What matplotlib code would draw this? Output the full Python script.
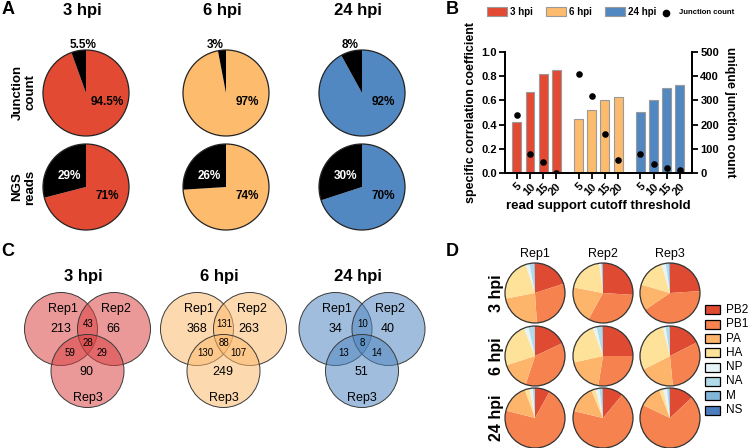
import matplotlib
matplotlib.use("Agg")
import matplotlib.pyplot as plt
import numpy as np
from matplotlib.patches import Circle, Rectangle

plt.rcParams["font.family"] = ["Liberation Sans", "DejaVu Sans"]

W, H = 750, 448

timepoints = ["3 hpi", "6 hpi", "24 hpi"]
tp_colors = ["#E24A33", "#FDBB6E", "#5288C1"]
venn_colors = ["#DA4444", "#FDBB6E", "#5288C1"]

# A: share of junctions / reads (coloured part, black part)
junction_main = [94.5, 97, 92]
junction_rest = [5.5, 3, 8]
reads_main = [71, 74, 70]
reads_rest = [29, 26, 30]

# B
cutoffs = ["5", "10", "15", "20"]
corr_3hpi = [0.42, 0.67, 0.82, 0.85]
corr_6hpi = [0.45, 0.52, 0.60, 0.63]
corr_24hpi = [0.50, 0.60, 0.70, 0.73]
junc_3hpi = [241, 80, 47, 2]
junc_6hpi = [408, 320, 161, 55]
junc_24hpi = [80, 36, 21, 14]

# C: only Rep1, only Rep2, only Rep3, 1&2, 1&3, 2&3, all three
venn_3hpi = [213, 66, 90, 43, 59, 29, 28]
venn_6hpi = [368, 263, 249, 131, 130, 107, 88]
venn_24hpi = [34, 40, 51, 10, 13, 14, 8]

# D: segment composition (%) per replicate
segments = ["PB2", "PB1", "PA", "HA", "NP", "NA", "M", "NS"]
seg_colors = ["#DF4A33", "#F5824F", "#FDB56C", "#FEE29A",
              "#E6F4F8", "#B2DBEA", "#82B5D8", "#4D7DBD"]
replicates = ["Rep1", "Rep2", "Rep3"]
comp_3hpi = [[20, 29, 23, 23, 2, 2.5, 0.3, 0.2],
             [26, 32, 20, 20, 1, 0.6, 0.2, 0.2],
             [24, 41.5, 14, 16, 2.2, 1.5, 0.5, 0.3]]
comp_6hpi = [[18, 37, 15, 24, 2.5, 3.2, 0.2, 0.1],
             [25, 27.5, 19, 23, 2, 3, 0.3, 0.2],
             [17.5, 31, 19, 28.6, 1.5, 2, 0.3, 0.1]]
comp_24hpi = [[8, 71, 15.5, 2.5, 1.8, 0.9, 0.2, 0.1],
              [11, 67.7, 15, 2.2, 2.2, 1.4, 0.3, 0.2],
              [13, 69, 12, 2.2, 2, 1.1, 0.4, 0.2]]

fig = plt.figure(figsize=(W / 100, H / 100), dpi=100)


def px_axes(x0, y0, w, h):
    return fig.add_axes([x0 / W, 1 - (y0 + h) / H, w / W, h / H])


def draw_pie(cx, cy, r, values, colors, edge="#222222"):
    ax = px_axes(cx - 1.25 * r, cy - 1.25 * r, 2.5 * r, 2.5 * r)
    ax.pie(values, colors=colors, startangle=90, counterclock=False,
           wedgeprops=dict(edgecolor="none", linewidth=0))
    ax.add_patch(Circle((0, 0), 1, fill=False, ec=edge, lw=0.9))
    ax.set_xlim(-1.25, 1.25)
    ax.set_ylim(-1.25, 1.25)
    return ax


# overlay in pixel coordinates for free text, legends and venn circles
ov = px_axes(0, 0, W, H)
ov.set_xlim(0, W)
ov.set_ylim(H, 0)
ov.axis("off")

for letter, (x, y) in zip("ABCD", [(8, 10), (452, 9), (8, 252), (452, 252)]):
    ov.text(x, y, letter, ha="center", va="center", fontsize=13,
            fontweight="bold")

# ---- A
pie_x = [86, 226, 362]
for i, tp in enumerate(timepoints):
    ov.text(pie_x[i] - 4, 10, tp, ha="center", va="center", fontsize=12,
            fontweight="bold")
    ax = draw_pie(pie_x[i], 93, 43, [junction_main[i], junction_rest[i]],
                  [tp_colors[i], "black"])
    ax.text(0.5, -0.21, f"{junction_main[i]:g}%", ha="center", va="center",
            fontsize=8.5, fontweight="bold")
    ax.text([-0.07, -0.26, -0.28][i], 1.12, f"{junction_rest[i]:g}%",
            ha="center", va="center", fontsize=8.5, fontweight="bold")
    ax = draw_pie(pie_x[i], 187, 43, [reads_main[i], reads_rest[i]],
                  [tp_colors[i], "black"])
    ax.text(0.5, -0.21, f"{reads_main[i]:g}%", ha="center", va="center",
            fontsize=8.5, fontweight="bold")
    ax.text(-0.38, 0.26, f"{reads_rest[i]:g}%", ha="center", va="center",
            fontsize=8.5, fontweight="bold", color="white")
ov.text(24, 92, "Junction\ncount", ha="center", va="center", fontsize=9.5,
        fontweight="bold", rotation=90, linespacing=1.1)
ov.text(24, 187, "NGS\nreads", ha="center", va="center", fontsize=9.5,
        fontweight="bold", rotation=90, linespacing=1.1)

# ---- B
axb = px_axes(505, 52, 187, 121)
corr = [corr_3hpi, corr_6hpi, corr_24hpi]
junc = [junc_3hpi, junc_6hpi, junc_24hpi]
axb2 = axb.twinx()
xpos = []
for g in range(3):
    x = np.arange(4) + g * 4.7
    xpos.extend(x)
    axb.bar(x, corr[g], width=0.68, color=tp_colors[g],
            edgecolor="#9a9a9a", linewidth=0.8, zorder=2)
    axb2.scatter(x, junc[g], s=14, color="black", zorder=3)
axb.set_xlim(-0.9, 13.32)
axb.set_ylim(0, 1.0)
axb2.set_ylim(0, 500)
axb.set_yticks(np.arange(0, 1.01, 0.2))
axb.set_yticklabels([f"{v:.1f}" for v in np.arange(0, 1.01, 0.2)])
axb2.set_yticks(range(0, 501, 100))
axb.set_xticks(xpos)
axb.set_xticklabels(cutoffs * 3, rotation=45, ha="right",
                    rotation_mode="anchor")
for a in (axb, axb2):
    a.spines["top"].set_visible(False)
    for s in ("left", "right", "bottom"):
        a.spines[s].set_linewidth(1.3)
    a.tick_params(width=1.3, length=4, labelsize=8, pad=2)
    for lab in a.get_xticklabels() + a.get_yticklabels():
        lab.set_fontweight("bold")
axb.set_ylabel("specific correlation coefficient", fontsize=9,
               fontweight="bold", labelpad=3)
axb2.set_ylabel("unique junction count", fontsize=9, fontweight="bold",
                rotation=270, labelpad=12)
axb.set_xlabel("read support cutoff threshold", fontsize=9.5,
               fontweight="bold", labelpad=2)

# legend of B, drawn in pixel space
leg_x = [487, 546, 605]
for i, tp in enumerate(timepoints):
    ov.add_patch(Rectangle((leg_x[i], 7.5), 20, 9, fc=tp_colors[i],
                           ec="#9a9a9a", lw=0.8))
    ov.text(leg_x[i] + 23, 12, tp, ha="left", va="center", fontsize=7,
            fontweight="bold")
ov.plot([666], [13], "o", color="black", ms=4.5)
ov.text(679, 13, "Junction count", ha="left", va="center", fontsize=5.5,
        fontweight="bold")

# ---- C
venn_cx = [87.5, 223.5, 362]
venn_cy = 343
circle_off = [(-26.5, -14), (26.5, -14), (0, 28)]
count_off = [(-26.5, -14), (25.5, -14), (-1, 29), (0.5, -19),
             (-18, 10), (14.5, 10), (0.5, 0)]
rep_off = [(-25, -34), (28, -34), (0, 55)]
for i, counts in enumerate([venn_3hpi, venn_6hpi, venn_24hpi]):
    cx = venn_cx[i]
    ov.text(cx - 4, 277, timepoints[i], ha="center", va="center",
            fontsize=12, fontweight="bold")
    for dx, dy in circle_off:
        ov.add_patch(Circle((cx + dx, venn_cy + dy), 36.5, fc=venn_colors[i],
                            alpha=0.55, ec="none"))
        ov.add_patch(Circle((cx + dx, venn_cy + dy), 36.5, fill=False,
                            ec="#3a3a3a", lw=0.7))
    for k, n in enumerate(counts):
        dx, dy = count_off[k]
        ov.text(cx + dx, venn_cy + dy, str(n), ha="center", va="center",
                fontsize=9 if k < 3 else 7)
    for rep, (dx, dy) in zip(replicates, rep_off):
        ov.text(cx + dx, venn_cy + dy, rep, ha="center", va="center",
                fontsize=9)

# ---- D
col_x = [535, 603, 670]
row_y = [293, 356, 418]
for r, comps in enumerate([comp_3hpi, comp_6hpi, comp_24hpi]):
    ov.text(497, row_y[r], timepoints[r], ha="center", va="center",
            fontsize=11.5, fontweight="bold", rotation=90)
    for c, vals in enumerate(comps):
        draw_pie(col_x[c], row_y[r], 30, vals, seg_colors, edge="#333333")
for c, rep in enumerate(replicates):
    ov.text(col_x[c], 254, rep, ha="center", va="center", fontsize=9)
for k, seg in enumerate(segments):
    y = 310 + 14.3 * k
    ov.add_patch(Rectangle((705, y - 4.5), 15, 9, fc=seg_colors[k],
                           ec="black", lw=0.9))
    ov.text(726, y, seg, ha="left", va="center", fontsize=8.5)

fig.savefig("out.png", dpi=100)
